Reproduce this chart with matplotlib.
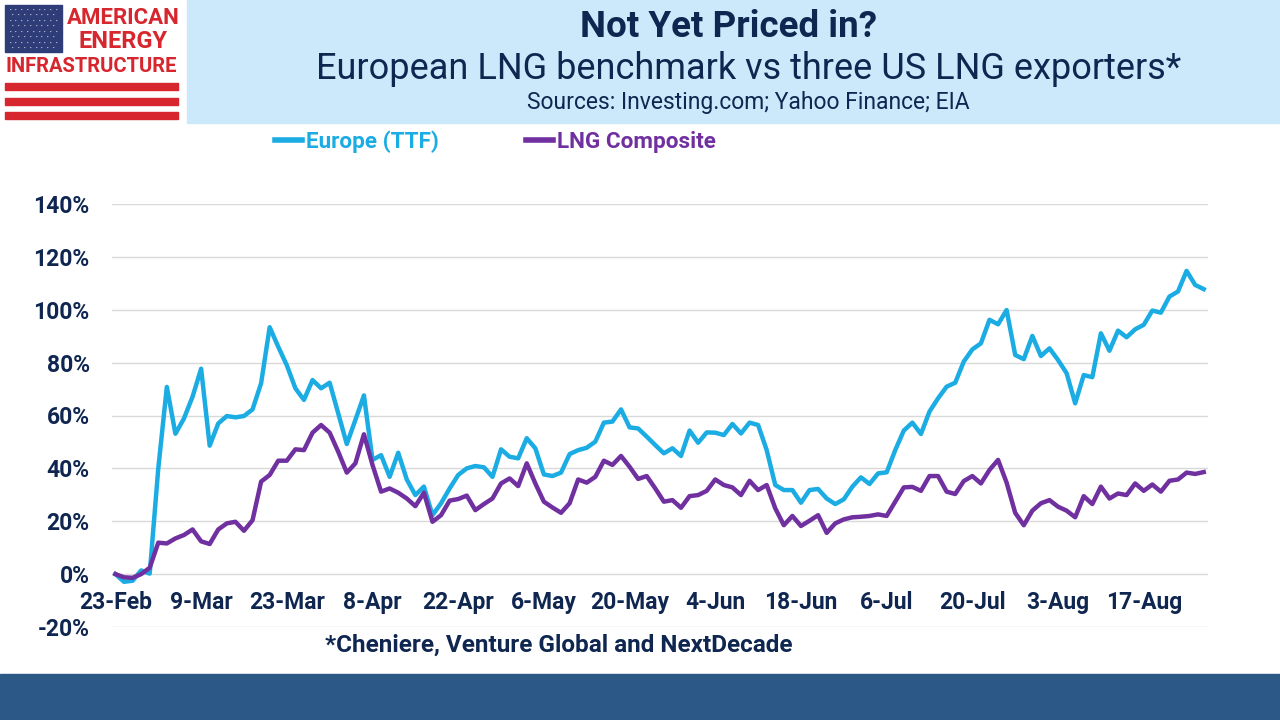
"""Not Yet Priced in? -- TTF vs US LNG exporter composite, cumulative % change."""

import matplotlib

matplotlib.use("Agg")
import matplotlib.pyplot as plt
from matplotlib.lines import Line2D
from matplotlib.patches import Rectangle
from matplotlib.ticker import FuncFormatter, MultipleLocator

NAVY = "#0F2650"
CYAN = "#1BACE3"
PURPLE = "#7030A0"
RED = "#D7262D"

# trading-day labels, one every 10 points
date_labels = [
    "23-Feb", "9-Mar", "23-Mar", "8-Apr", "22-Apr", "6-May", "20-May",
    "4-Jun", "18-Jun", "6-Jul", "20-Jul", "3-Aug", "17-Aug",
]

# % change since 23-Feb
europe_ttf = [
    0, -2.9, -2.5, 1.4, 0.2, 40, 70.8, 53.1, 58.9, 67.1,
    77.7, 48.6, 57.0, 59.8, 59.3, 59.8, 62.3, 72.2, 93.4, 86.0,
    79.0, 70.3, 65.9, 73.4, 70.3, 72.4, 60.8, 49.2, 58.3, 67.6,
    43.2, 45.0, 36.8, 45.9, 35.8, 29.9, 33.1, 22.3, 26.8, 32.4,
    37.5, 40.0, 40.9, 40.4, 36.8, 47.2, 44.4, 43.8, 51.4, 47.6,
    37.7, 37.1, 38.4, 45.4, 46.9, 47.8, 50.1, 57.3, 57.7, 62.3,
    55.5, 55.1, 52.0, 48.8, 45.7, 47.6, 44.7, 54.3, 49.7, 53.6,
    53.5, 52.6, 56.8, 53.2, 57.3, 56.4, 46.9, 33.7, 31.8, 31.8,
    27.0, 31.8, 32.2, 28.6, 26.5, 28.3, 33.1, 36.6, 34.1, 38.1,
    38.5, 46.9, 54.3, 57.3, 53.0, 61.5, 66.5, 70.9, 72.4, 80.4,
    85.0, 87.3, 96.2, 94.5, 99.9, 82.9, 81.3, 90.1, 82.5, 85.4,
    81.0, 76.0, 64.6, 75.3, 74.5, 91.1, 84.5, 92.1, 89.6, 92.6,
    94.3, 99.7, 98.9, 105.0, 106.9, 114.7, 109.4, 107.8,
]
lng_composite = [
    0, -1.2, -1.4, 0.0, 2.4, 11.9, 11.6, 13.5, 14.8, 16.9,
    12.4, 11.4, 16.9, 19.2, 19.8, 16.4, 20.4, 35.0, 37.5, 42.9,
    42.9, 47.2, 46.9, 53.5, 56.4, 53.5, 46.3, 38.4, 41.9, 52.9,
    41.3, 31.2, 32.4, 30.8, 28.6, 25.7, 30.8, 19.8, 22.3, 27.8,
    28.4, 29.7, 24.2, 26.5, 28.6, 34.3, 36.2, 33.3, 41.9, 34.3,
    27.4, 25.2, 23.2, 26.8, 35.8, 34.6, 36.8, 42.9, 41.3, 44.7,
    40.6, 36.0, 37.1, 32.4, 27.4, 28.0, 25.1, 29.5, 29.9, 31.5,
    35.8, 33.7, 32.8, 29.9, 35.3, 31.8, 33.7, 24.9, 18.5, 22.0,
    18.2, 20.2, 22.3, 15.6, 19.2, 20.7, 21.5, 21.7, 22.0, 22.6,
    22.0, 27.4, 32.8, 33.0, 31.5, 37.1, 37.1, 31.2, 30.3, 35.2,
    37.1, 34.3, 39.4, 43.2, 34.6, 23.2, 18.5, 24.0, 26.8, 28.0,
    25.5, 24.0, 21.5, 29.5, 26.5, 33.1, 28.6, 30.5, 29.9, 34.3,
    31.5, 33.9, 31.2, 35.3, 35.8, 38.4, 37.9, 38.6,
]
series_names = ["Europe (TTF)", "LNG Composite"]

plt.rcParams["font.family"] = ["Roboto", "DejaVu Sans"]

fig = plt.figure(figsize=(12.8, 7.2), dpi=100)

# header band and logo
fig.patches.append(Rectangle((187 / 1280, 1 - 123 / 720), 1 - 187 / 1280, 123 / 720,
                             transform=fig.transFigure, color="#CCE9FB", zorder=0))
fig.patches.append(Rectangle((0, 0), 1, 46 / 720, transform=fig.transFigure,
                             color="#2B5886", zorder=0))
fig.patches.append(Rectangle((5 / 1280, 1 - 52 / 720), 57 / 1280, 47 / 720,
                             transform=fig.transFigure, color="#2E3D78", zorder=1))
for r in range(8):
    for c in range(9 - r % 2):
        fig.text((10 + c * 5.8 + (r % 2) * 2.9) / 1280, 1 - (10 + r * 5.5) / 720, "•",
                 color="white", fontsize=3.5, ha="center", va="center")
for ypx in (83, 98, 112):
    fig.patches.append(Rectangle((5 / 1280, 1 - (ypx + 7) / 720), 173 / 1280, 7 / 720,
                                 transform=fig.transFigure, color=RED, zorder=1))
fig.text(123 / 1280, 1 - 18 / 720, "AMERICAN", color=RED, fontsize=16,
         fontweight="bold", ha="center", va="center")
fig.text(123 / 1280, 1 - 41 / 720, "ENERGY", color=RED, fontsize=17,
         fontweight="bold", ha="center", va="center")
fig.text(91 / 1280, 1 - 66 / 720, "INFRASTRUCTURE", color=RED, fontsize=14.5,
         fontweight="bold", ha="center", va="center")

fig.text(729 / 1280, 1 - 27 / 720, "Not Yet Priced in?", color=NAVY, fontsize=26.5,
         fontweight="bold", ha="center", va="center")
fig.text(749 / 1280, 1 - 69 / 720, "European LNG benchmark vs three US LNG exporters*",
         color=NAVY, fontsize=26, ha="center", va="center")
fig.text(748 / 1280, 1 - 102 / 720, "Sources: Investing.com; Yahoo Finance; EIA",
         color=NAVY, fontsize=16.5, ha="center", va="center")

ax = fig.add_axes([112 / 1280, 1 - 627 / 720, 1096 / 1280, 423 / 720])
x = range(len(europe_ttf))
ax.plot(x, europe_ttf, color=CYAN, linewidth=3.2, solid_joinstyle="round")
ax.plot(x, lng_composite, color=PURPLE, linewidth=3.2, solid_joinstyle="round")

ax.set_xlim(-0.4, len(europe_ttf) - 0.5)
ax.set_ylim(-20, 140)
ax.yaxis.set_major_locator(MultipleLocator(20))
ax.yaxis.set_major_formatter(FuncFormatter(lambda v, _: f"{v:.0f}%"))
ax.set_xticks(range(0, len(date_labels) * 10, 10))
ax.set_xticklabels(date_labels)
ax.grid(axis="y", color="#D9D9D9", linewidth=1)
ax.set_axisbelow(True)
for side in ("top", "right", "left"):
    ax.spines[side].set_visible(False)
ax.spines["bottom"].set_position(("data", 0))
ax.spines["bottom"].set_visible(False)
ax.tick_params(axis="both", length=0, labelsize=16.5, labelcolor=NAVY)
ax.tick_params(axis="y", pad=16)
ax.tick_params(axis="x", pad=12)
for lbl in ax.get_xticklabels() + ax.get_yticklabels():
    lbl.set_fontweight("bold")

handles = [Line2D([], [], color=c, linewidth=4) for c in (CYAN, PURPLE)]
leg = ax.legend(handles, series_names, ncol=2, loc="center",
                bbox_to_anchor=(0.350, (627 - 142) / 423), frameon=False,
                handlelength=1.2, handletextpad=0.15, columnspacing=3.9,
                prop={"size": 16.2, "weight": "bold"})
for txt, c in zip(leg.get_texts(), (CYAN, PURPLE)):
    txt.set_color(c)

fig.text(559 / 1280, 1 - 645 / 720, "*Cheniere, Venture Global and NextDecade",
         color=NAVY, fontsize=17.5, fontweight="bold", ha="center", va="center")

fig.savefig("out.png", dpi=100)
